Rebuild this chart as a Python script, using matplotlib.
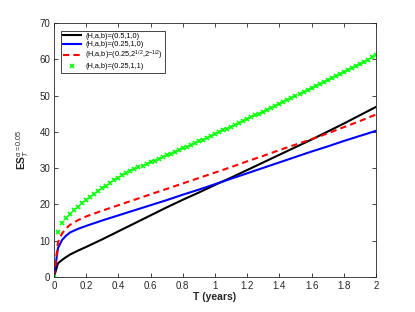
import matplotlib
matplotlib.use("Agg")
import matplotlib.pyplot as plt
import numpy as np

plt.rcParams["font.family"] = ["Liberation Sans", "DejaVu Sans"]
plt.rcParams["mathtext.fontset"] = "custom"
plt.rcParams["mathtext.rm"] = "Liberation Sans"
plt.rcParams["mathtext.it"] = "Liberation Sans:italic"

# time grid of the green markers (step 0.025) and a coarser one for the lines
t_marks = np.arange(81) * 0.025
t_line = [0, 0.025, 0.05, 0.075, 0.1, 0.15, 0.2, 0.3, 0.4, 0.5, 0.6, 0.7, 0.8,
          0.9, 1.0, 1.1, 1.2, 1.3, 1.4, 1.5, 1.6, 1.7, 1.8, 1.9, 2.0]

es_h05 = [0, 3.8, 4.7, 5.5, 6.2, 7.3, 8.3, 10.4, 12.6, 14.8, 17.0, 19.2, 21.3,
          23.3, 25.4, 27.4, 29.5, 31.6, 33.7, 35.8, 37.9, 40.1, 42.3, 44.6, 46.9]
es_h025 = [0, 8.0, 10.2, 11.4, 12.3, 13.3, 14.1, 15.6, 17.0, 18.4, 19.8, 21.2, 22.7,
           24.1, 25.6, 27.1, 28.6, 30.1, 31.6, 33.1, 34.6, 36.0, 37.5, 38.9, 40.3]
es_sqrt2 = [0, 9.6, 12.0, 13.4, 14.4, 15.7, 16.7, 18.3, 19.8, 21.3, 22.8, 24.3, 25.8,
            27.3, 28.8, 30.3, 31.9, 33.4, 35.0, 36.5, 38.0, 39.6, 41.3, 43.0, 44.8]
es_11 = [0, 12.5, 14.9, 16.3, 17.5, 18.5, 19.4, 20.3, 21.2, 22.0, 22.85, 23.65,
         24.45, 25.2, 25.95, 26.7, 27.4, 28.0, 28.6, 29.15, 29.7, 30.2, 30.7, 31.15,
         31.6, 32.1, 32.6, 33.1, 33.55, 34.05, 34.55, 35.0, 35.5, 35.95, 36.45, 36.95,
         37.4, 37.9, 38.4, 38.9, 39.4, 39.9, 40.4, 40.9, 41.4, 41.9, 42.45, 42.95,
         43.5, 44.0, 44.55, 45.05, 45.6, 46.1, 46.65, 47.15, 47.7, 48.2, 48.75, 49.25,
         49.8, 50.35, 50.9, 51.45, 52.0, 52.55, 53.1, 53.65, 54.2, 54.75, 55.3, 55.85,
         56.4, 56.95, 57.5, 58.05, 58.65, 59.2, 59.85, 60.55, 61.25]

labels = ["(H,a,b)=(0.5,1,0)", "(H,a,b)=(0.25,1,0)",
          "(H,a,b)=(0.25,2$^{1/2}$,2$^{-1/2}$)", "(H,a,b)=(0.25,1,1)"]

fig = plt.figure(figsize=(4.15, 3.12), dpi=100)
ax = fig.add_axes([0.13, 0.112, 0.776, 0.814])

ax.plot(t_line, es_h05, color="black", lw=1.5, label=labels[0])
ax.plot(t_line, es_h025, color="blue", lw=1.5, label=labels[1])
ax.plot(t_line, es_sqrt2, color="red", lw=1.5, dashes=(3, 2), label=labels[2])
ax.plot(t_marks, es_11, ls="none", marker="x", ms=3.2, mew=1.2, color="#00ff00",
        label=labels[3])

ax.set_xlim(0, 2)
ax.set_ylim(0, 70)
ax.set_xticks(np.arange(0, 2.01, 0.2))
ax.set_xticklabels(["0", "0.2", "0.4", "0.6", "0.8", "1", "1.2", "1.4", "1.6", "1.8", "2"])
ax.set_yticks(np.arange(0, 71, 10))

gray = "#262626"
for s in ax.spines.values():
    s.set_color(gray)
    s.set_linewidth(0.6)
ax.tick_params(direction="in", length=3, width=0.6, colors=gray, labelsize=7,
               top=True, right=True, pad=2.5)

ax.set_xlabel("T (years)", fontsize=7.5, fontweight="bold", color=gray, labelpad=1)
ax.set_ylabel(r"ES$_T^{\alpha=0.05}$", fontsize=7.5, fontweight="bold", color=gray,
              labelpad=6)

leg = ax.legend(loc="upper left", bbox_to_anchor=(0.022, 0.97), fontsize=5.3,
                handlelength=2.4, handletextpad=0.6, borderpad=0.3, labelspacing=0.12,
                fancybox=False, framealpha=1, edgecolor=gray, borderaxespad=0)
leg.get_frame().set_linewidth(0.6)

fig.savefig("out.png", dpi=100, facecolor="white")
